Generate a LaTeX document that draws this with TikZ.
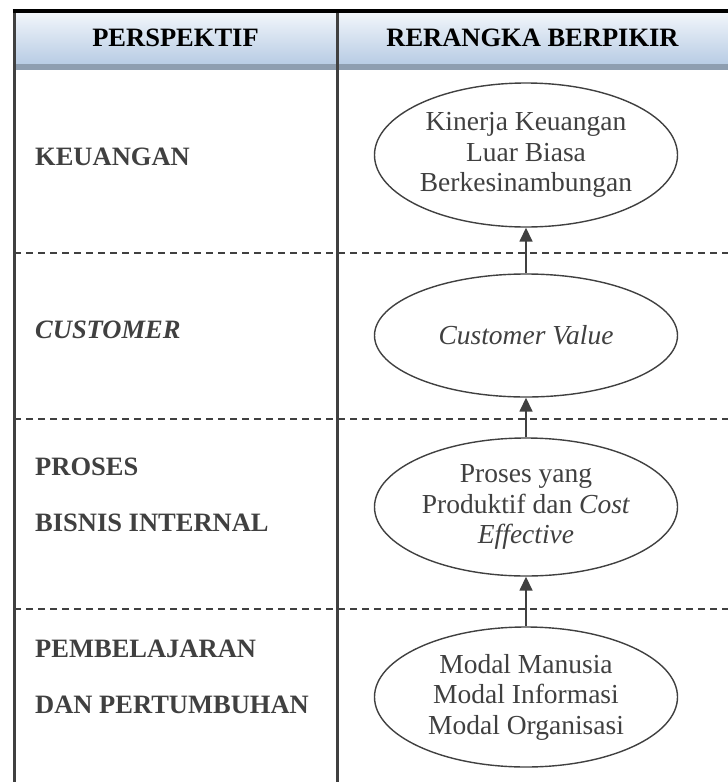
\documentclass[tikz,border=0pt]{standalone}
\usepackage{fontspec}
\setmainfont{Liberation Serif}
\usetikzlibrary{shapes.geometric,arrows.meta}
\definecolor{ink}{RGB}{64,64,64}
\definecolor{hdtop}{RGB}{242,246,251}
\definecolor{hdbot}{RGB}{184,204,228}
\definecolor{hdband}{RGB}{142,158,176}
\tikzset{
  oval/.style={ellipse, draw=ink, line width=1.4pt, minimum width=303pt, inner sep=0pt,
    align=center, text=ink, font=\fontsize{27.5}{30.5}\selectfont},
  lbl/.style={anchor=west, inner sep=0pt, text=ink, font=\fontsize{26.5}{30}\selectfont\bfseries},
  hdr/.style={inner sep=0pt, text=black, font=\fontsize{26.5}{30}\selectfont\bfseries},
  sep/.style={draw=ink, line width=1.3pt, dash pattern=on 7pt off 5pt},
  rule/.style={draw=ink, line width=3pt},
  arr/.style={draw=ink, line width=1.6pt, -{Triangle[width=13pt,length=14pt]}}
}
\begin{document}
\begin{tikzpicture}[x=1pt,y=-1pt]
\useasboundingbox (0,0) rectangle (728,782);
% header band
\shade[top color=hdtop, bottom color=hdbot] (14,12) rectangle (728,64);
\fill[hdband] (14,64) rectangle (728,70);
% frame lines
\draw[rule] (14,11) -- (14,782);
\draw[rule] (337,11) -- (337,782);
\draw[line width=3.5pt, black] (12.5,11) -- (728,11);
% dashed separators
\draw[sep] (14,253) -- (728,253);
\draw[sep] (14,419) -- (728,419);
\draw[sep] (14,609) -- (728,609);
% headers
\node[hdr] (h1) at (175.5,38) {PERSPEKTIF};
\node[hdr] (h2) at (532.5,38) {RERANGKA BERPIKIR};
% perspective labels
\node[lbl] (k) at (35,157) {KEUANGAN};
\node[lbl] (c) at (35,330) {\itshape CUSTOMER};
\node[lbl] (p1) at (35,467) {PROSES};
\node[lbl] (p2) at (35,523) {BISNIS INTERNAL};
\node[lbl] (l1) at (35,649) {PEMBELAJARAN};
\node[lbl] (l2) at (35,705) {DAN PERTUMBUHAN};
% ellipses
\node[oval, minimum height=144pt] (e1) at (526,155) {Kinerja Keuangan\\Luar Biasa\\Berkesinambungan};
\node[oval, minimum height=123pt] (e2) at (526,335.5) {\itshape Customer Value};
\node[oval, minimum height=138pt] (e3) at (526,507) {Proses yang\\Produktif dan \textit{Cost}\\\textit{Effective}};
\node[oval, minimum height=140pt] (e4) at (526,697) {Modal Manusia\\Modal Informasi\\Modal Organisasi};
% arrows
\draw[arr] (e2) -- (e1);
\draw[arr] (e3) -- (e2);
\draw[arr] (e4) -- (e3);
\end{tikzpicture}
\end{document}
